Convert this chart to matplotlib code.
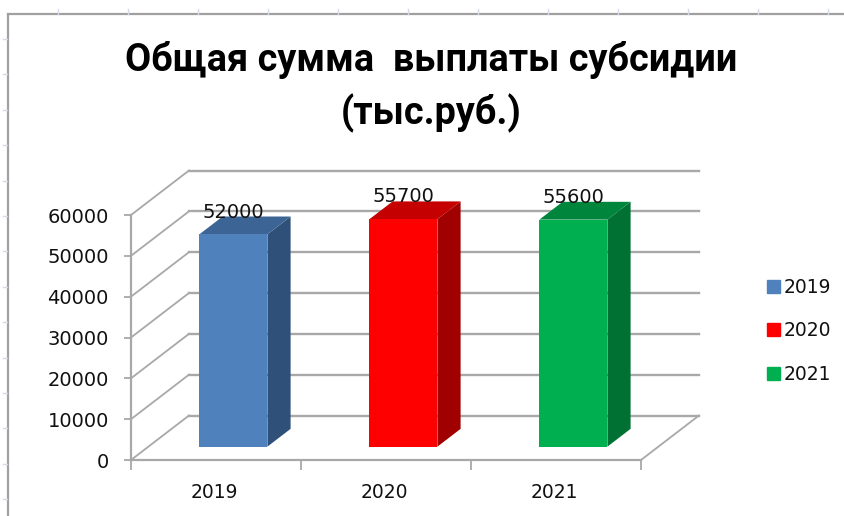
import matplotlib
matplotlib.use("Agg")
import matplotlib.pyplot as plt
from matplotlib.lines import Line2D
from matplotlib.patches import Patch

# data
years = ["2019", "2020", "2021"]
values = [52000, 55700, 55600]
y_ticks = [0, 10000, 20000, 30000, 40000, 50000, 60000]

front_colors = ["#4f81bd", "#ff0000", "#00b050"]
top_colors = ["#3c6494", "#c40000", "#00853c"]
side_colors = ["#2f5078", "#a00000", "#007033"]

W, H = 845, 516
GRID = "#a8a8a8"
# how far the back wall is shifted from the front plane, in data units
DEPTH_X = 58 / 170
DEPTH_Y = 44.5 / 245 * 60000
BAR_W = 0.4
BAR_D0, BAR_D1 = 0.3, 0.7


def proj(x, y, d):
    return x + d * DEPTH_X, y + d * DEPTH_Y


def box(x0, x1, y, d0, d1):
    front = [proj(x0, 0, d0), proj(x1, 0, d0), proj(x1, y, d0), proj(x0, y, d0)]
    top = [proj(x0, y, d0), proj(x1, y, d0), proj(x1, y, d1), proj(x0, y, d1)]
    side = [proj(x1, 0, d0), proj(x1, 0, d1), proj(x1, y, d1), proj(x1, y, d0)]
    return front, top, side


def fig_line(xs, ys, color, lw=1.5):
    # decoration around the chart, given in pixels of the screenshot
    fig.add_artist(Line2D([x / W for x in xs], [1 - y / H for y in ys], color=color, lw=lw))


fig = plt.figure(figsize=(W / 100, H / 100), dpi=100, facecolor="white")

# screenshot frame and ruler marks
fig_line([8, 8], [14, H], "#a0a0a0", 1.6)
fig_line([8, W], [14, 14], "#a0a0a0", 1.6)
for i in range(12):
    fig_line([58 + i * 70] * 2, [9, 14], "#d5d9e8", 1)
for i in range(14):
    fig_line([3, 7], [39 + i * 35.4] * 2, "#d5d9e8", 1)

ax = fig.add_axes([131 / W, 1 - 460 / H, 510 / W, 245 / H])
ax.patch.set_alpha(0)
ax.set_xlim(0, 3)
ax.set_ylim(0, 60000)

# walls and floor
for v in y_ticks:
    x0, y0 = proj(0, v, 1)
    x1, y1 = proj(3, v, 1)
    ax.plot([0, x0], [v, y0], color=GRID, lw=1.3, clip_on=False, zorder=1)
    ax.plot([x0, x1], [y0, y1], color=GRID, lw=1.7, clip_on=False, zorder=1)
fx, fy = proj(3, 0, 1)
ax.plot([3, fx], [0, fy], color=GRID, lw=1.3, clip_on=False, zorder=1)

# bars
for i, val in enumerate(values):
    cx = i + 0.5
    front, top, side = box(cx - BAR_W / 2, cx + BAR_W / 2, val, BAR_D0, BAR_D1)
    ax.fill(*zip(*side), color=side_colors[i], lw=0, clip_on=False, zorder=3)
    ax.fill(*zip(*top), color=top_colors[i], lw=0, clip_on=False, zorder=3)
    ax.fill(*zip(*front), color=front_colors[i], lw=0, clip_on=False, zorder=4)
    lx, ly = proj(cx, val, BAR_D0)
    ax.annotate(str(val), (lx, ly), xytext=(0, 16), textcoords="offset points",
                ha="center", va="center", fontsize=14, color="#111111",
                annotation_clip=False, zorder=5)

for s in ["top", "right"]:
    ax.spines[s].set_visible(False)
for s in ["left", "bottom"]:
    ax.spines[s].set_color(GRID)
    ax.spines[s].set_linewidth(1.6)

ax.set_yticks(y_ticks)
ax.tick_params(axis="y", length=5, width=1.3, color=GRID, labelsize=14, pad=11, labelcolor="#111111")
ax.set_xticks([0, 1, 2, 3])
ax.set_xticklabels([])
ax.tick_params(axis="x", which="major", length=7, width=1.3, color=GRID)
ax.set_xticks([i + 0.49 for i in range(3)], minor=True)
ax.set_xticklabels(years, minor=True)
ax.tick_params(axis="x", which="minor", length=0, labelsize=13.5, pad=16.5, labelcolor="#111111")

handles = [Patch(color=c, label=y) for c, y in zip(front_colors, years)]
fig.legend(handles=handles, loc="center left", bbox_to_anchor=(750 / W, 1 - 331 / H),
           frameon=False, fontsize=13.5, handlelength=0.68, handleheight=0.68,
           handletextpad=0.22, labelspacing=1.3, labelcolor="#111111")

fig.text(431 / W, 1 - 60 / H, "Общая сумма  выплаты субсидии", family="Roboto", weight="bold",
         fontsize=27.3, ha="center", va="center", color="black")
fig.text(431 / W, 1 - 113 / H, "(тыс.руб.)", family="Roboto", weight="bold",
         fontsize=27.3, ha="center", va="center", color="black")

fig.savefig("out.png", dpi=100)
